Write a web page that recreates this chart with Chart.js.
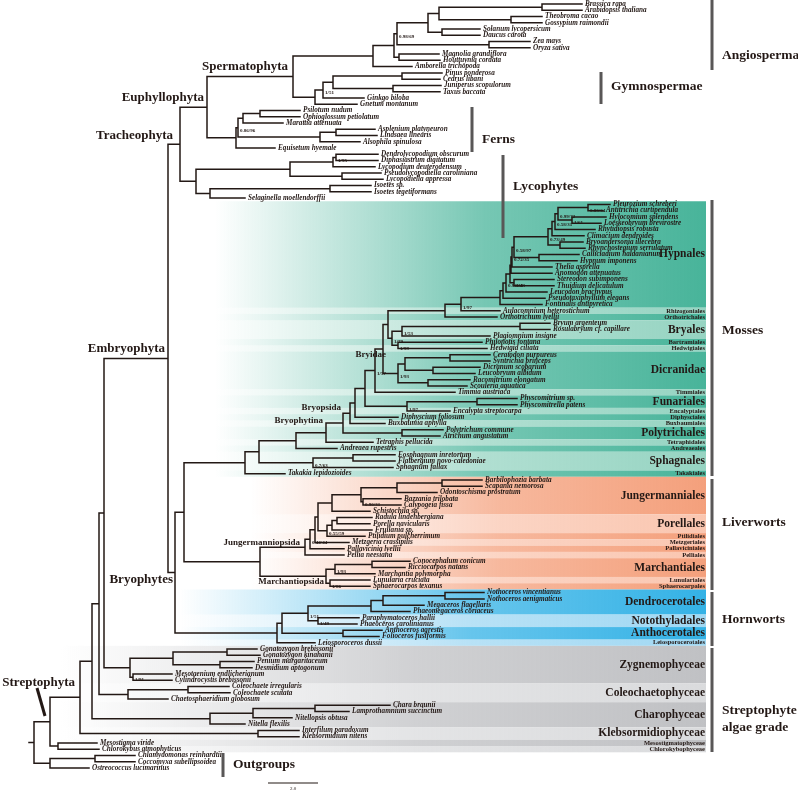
<!DOCTYPE html>
<html>
<head>
<meta charset="utf-8">
<script src="https://cdn.jsdelivr.net/npm/chart.js@4.4.0/dist/chart.umd.min.js"></script>
<style>
  html, body { margin: 0; padding: 0; background: #fff; }
  canvas { display: block; }
</style>
</head>
<body>
<canvas id="tree" width="798" height="791"></canvas>
<script>
// Leaves, top to bottom
const taxa = [
  "Brassica rapa", "Arabidopsis thaliana", "Theobroma cacao", "Gossypium raimondii",
  "Solanum lycopersicum", "Daucus carota", "Zea mays", "Oryza sativa",
  "Magnolia grandiflora", "Houttuynia cordata", "Amborella trichopoda",
  "Pinus ponderosa", "Cedrus libani", "Juniperus scopulorum", "Taxus baccata",
  "Ginkgo biloba", "Gnetum montanum",
  "Psilotum nudum", "Ophioglossum petiolatum", "Marattia attenuata",
  "Asplenium platyneuron", "Lindsaea linearis", "Alsophila spinulosa", "Equisetum hyemale",
  "Dendrolycopodium obscurum", "Diphasiastrum digitatum", "Lycopodium deuterodensum",
  "Pseudolycopodiella caroliniana", "Lycopodiella appressa", "Isoetes sp.",
  "Isoetes tegetiformans", "Selaginella moellendorffii",
  "Pleurozium schreberi", "Antitrichia curtipendula", "Hylocomium splendens",
  "Loeskeobryum brevirostre", "Rhytidiopsis robusta", "Climacium dendroides",
  "Bryoandersonia illecebra", "Rhynchostegium serrulatum", "Callicladium haldanianum",
  "Hypnum imponens", "Thelia asprella", "Anomodon attenuatus", "Stereodon subimponens",
  "Thuidium delicatulum", "Leucodon brachypus", "Pseudotaxiphyllum elegans",
  "Fontinalis antipyretica", "Aulacomnium heterostichum", "Orthotrichum lyellii",
  "Bryum argenteum", "Rosulabryum cf. capillare", "Plagiomnium insigne",
  "Philonotis fontana", "Hedwigia ciliata", "Ceratodon purpureus", "Syntrichia princeps",
  "Dicranum scoparium", "Leucobryum albidum", "Racomitrium elongatum", "Scouleria aquatica",
  "Timmia austriaca", "Physcomitrium sp.", "Physcomitrella patens", "Encalypta streptocarpa",
  "Diphyscium foliosum", "Buxbaumia aphylla", "Polytrichum commune", "Atrichum angustatum",
  "Tetraphis pellucida", "Andreaea rupestris", "Eosphagnum inretortum",
  "Flatbergium novo-caledoniae", "Sphagnum fallax", "Takakia lepidozioides",
  "Barbilophozia barbata", "Scapania nemorosa", "Odontoschisma prostratum",
  "Bazzania trilobata", "Calypogeia fissa", "Schistochila sp.", "Radula lindenbergiana",
  "Porella navicularis", "Frullania sp.", "Ptilidium pulcherrimum", "Metzgeria crassipilis",
  "Pallavicinia lyellii", "Pellia neesiana", "Conocephalum conicum", "Ricciocarpos natans",
  "Marchantia polymorpha", "Lunularia cruciata", "Sphaerocarpos texanus",
  "Nothoceros vincentianus", "Nothoceros aenigmaticus", "Megaceros flagellaris",
  "Phaeomegaceros coriaceus", "Paraphymatoceros hallii", "Phaeoceros carolinianus",
  "Anthoceros agrestis", "Folioceros fusiformis", "Leiosporoceros dussii",
  "Gonatozygon brebissonii", "Gonatozygon kinahanii", "Penium margaritaceum",
  "Desmidium aptogonum", "Mesotaenium endlicherianum", "Cylindrocystis brebissonii",
  "Coleochaete irregularis", "Coleochaete scutata", "Chaetosphaeridium globosum",
  "Chara braunii", "Lamprothamnium succinctum", "Nitellopsis obtusa", "Nitella flexilis",
  "Interfilum paradoxum", "Klebsormidium nitens", "Mesostigma viride",
  "Chlorokybus atmophyticus", "Chlamydomonas reinhardtii", "Coccomyxa subellipsoidea",
  "Ostreococcus lucimarinus"
];

// distance of each tip from the root (scale bar units)
const tipDepth = [
  22.12, 22.12, 20.52, 20.52, 18.04, 18.04, 20.04, 20.04, 16.4, 16.44, 15.32,
  16.52, 16.44, 16.48, 16.44, 13.4, 13.12,
  10.84, 10.84, 10.16, 13.84, 13.92, 13.24, 9.84,
  13.96, 13.96, 13.84, 14.08, 14.16, 13.68, 13.68, 8.64,
  23.24, 22.96, 23.08, 22.88, 22.64, 22.2, 22.16, 22.24, 22.0, 21.92,
  20.92, 20.92, 21.0, 21.0, 20.72, 20.64, 20.52, 18.84, 18.72,
  20.84, 20.84, 18.44, 18.12, 18.32, 18.44, 18.44, 18.04, 17.84, 17.64, 17.52,
  17.04, 19.52, 19.52, 16.84, 14.76, 14.24, 16.56, 16.44, 13.76, 12.32,
  14.64, 14.64, 14.56, 10.24,
  18.12, 18.12, 16.32, 14.88, 14.88, 13.64, 13.72, 13.64, 13.72, 13.44,
  12.8, 12.6, 12.6, 15.24, 15.04, 13.84, 13.64, 13.64,
  18.2, 18.2, 15.8, 15.24, 13.2, 13.12, 14.12, 14.0, 11.44,
  9.12, 9.24, 9.0, 8.92, 5.72, 5.72, 8.0, 8.04, 5.56,
  14.44, 12.8, 10.52, 8.64, 10.8, 10.8, 2.72, 2.8, 4.24, 4.24, 2.4
];

// clades: [first leaf, last leaf, node depth]
const clades = [
  [0, 122, 0.2], [0, 119, 0.84], [118, 119, 1.16], [120, 122, 0.84], [120, 121, 2.64],
  [0, 117, 2.04], [116, 117, 9.16], [0, 115, 2.52], [112, 115, 7.24], [112, 114, 8.96],
  [112, 113, 11.44], [0, 111, 2.8], [109, 111, 3.96], [109, 110, 6.36], [0, 108, 3.0],
  [103, 108, 4.04], [103, 106, 5.76], [103, 104, 7.92], [105, 106, 7.64], [107, 108, 4.16],
  [0, 102, 5.56], [0, 31, 6.04], [0, 23, 7.12], [0, 16, 10.56],
  [0, 10, 13.76], [0, 9, 14.6], [0, 7, 14.72], [0, 5, 15.96], [0, 3, 16.4], [0, 1, 20.52],
  [2, 3, 19.28], [4, 5, 16.52], [6, 7, 18.4], [8, 9, 14.8],
  [11, 16, 11.44], [11, 15, 11.76], [11, 14, 12.16], [11, 12, 14.92], [13, 14, 14.56],
  [17, 23, 8.28], [17, 22, 8.36], [17, 19, 8.56], [17, 18, 9.24], [20, 22, 11.64], [20, 21, 12.28],
  [24, 31, 6.68], [24, 28, 10.44], [24, 26, 12.16], [24, 25, 12.28], [27, 28, 12.52],
  [29, 31, 7.24], [29, 30, 12.04],
  [32, 102, 5.84], [32, 93, 6.2], [32, 75, 8.64], [32, 74, 9.2], [72, 74, 11.36], [72, 73, 12.96],
  [32, 71, 10.68], [32, 70, 11.88], [32, 69, 12.56], [68, 69, 14.92], [32, 67, 12.84],
  [32, 66, 13.04], [32, 65, 13.44], [63, 65, 15.12], [63, 64, 17.92], [32, 62, 13.84],
  [32, 61, 14.16], [32, 55, 14.36], [56, 61, 14.76], [56, 59, 15.04], [56, 57, 16.84],
  [58, 59, 16.16], [60, 61, 15.96], [51, 55, 14.52], [51, 53, 14.92], [51, 52, 19.64],
  [54, 55, 14.76], [32, 50, 16.64], [32, 49, 17.28], [32, 48, 18.84], [32, 47, 18.96],
  [32, 46, 19.08], [32, 45, 19.24], [44, 45, 19.4], [32, 43, 19.28], [32, 42, 19.32],
  [32, 41, 19.4], [40, 41, 20.4], [32, 39, 20.76], [38, 39, 21.24], [32, 37, 20.92],
  [32, 36, 21.04], [32, 35, 21.16], [34, 35, 21.72], [32, 33, 22.36],
  [76, 93, 9.24], [76, 88, 11.04], [76, 87, 11.24], [76, 86, 11.44], [76, 85, 11.56],
  [76, 81, 12.12], [76, 80, 13.28], [76, 78, 14.72], [76, 77, 16.52], [79, 80, 13.36],
  [82, 85, 11.92], [82, 84, 12.12], [82, 83, 12.32],
  [89, 93, 11.88], [89, 91, 12.24], [89, 90, 13.72], [92, 93, 12.04],
  [94, 102, 9.92], [94, 101, 10.12], [94, 99, 11.16], [94, 97, 13.68], [94, 96, 14.16],
  [94, 95, 16.64], [98, 99, 11.56], [100, 101, 12.56]
];

// support values: [first leaf, last leaf, text]
const supports = [
  [0, 7, "0.98/69"], [11, 15, "1/51"], [17, 22, "0.86/96"], [24, 25, "1/95"],
  [32, 33, "0.83/64"], [32, 35, "0.99/72"], [34, 35, "1/61"], [32, 36, "0.58/31"],
  [32, 39, "0.73/49"], [32, 41, "0.58/97"], [32, 42, "0.72/35"], [44, 45, "1/43"],
  [32, 46, "0.94/65"], [32, 49, "1/97"], [51, 55, "1/79"], [51, 53, "1/53"],
  [54, 55, "1/99"], [56, 61, "1/93"], [32, 62, "1/57"], [72, 74, "0.7/63"],
  [63, 65, "1/97"], [79, 80, "0.90/31"], [82, 85, "0.55/59"], [76, 87, "0.44/44"],
  [89, 91, "1/93"], [92, 93, "1/86"], [94, 99, "1/51"], [98, 99, "1/49"], [107, 108, "1/91"]
];

// orders shown as coloured bands: [first leaf, last leaf, name, group]
const orders = [
  [32, 48, "Hypnales", "moss"], [49, 49, "Rhizogoniales", "moss"], [50, 50, "Orthotrichales", "moss"],
  [51, 53, "Bryales", "moss"], [54, 54, "Bartramiales", "moss"], [55, 55, "Hedwigiales", "moss"],
  [56, 61, "Dicranidae", "moss"], [62, 62, "Timmiales", "moss"], [63, 64, "Funariales", "moss"],
  [65, 65, "Encalyptales", "moss"], [66, 66, "Diphysciales", "moss"], [67, 67, "Buxbaumiales", "moss"],
  [68, 69, "Polytrichales", "moss"], [70, 70, "Tetraphidales", "moss"], [71, 71, "Andreaeales", "moss"],
  [72, 74, "Sphagnales", "moss"], [75, 75, "Takakiales", "moss"],
  [76, 81, "Jungermanniales", "liver"], [82, 84, "Porellales", "liver"], [85, 85, "Ptilidiales", "liver"],
  [86, 86, "Metzgeriales", "liver"], [87, 87, "Pallaviciniales", "liver"], [88, 88, "Pelliales", "liver"],
  [89, 91, "Marchantiales", "liver"], [92, 92, "Lunulariales", "liver"], [93, 93, "Sphaerocarpales", "liver"],
  [94, 97, "Dendrocerotales", "horn"], [98, 99, "Notothyladales", "horn"],
  [100, 101, "Anthocerotales", "horn"], [102, 102, "Leiosporocerotales", "horn"],
  [103, 108, "Zygnemophyceae", "alga"], [109, 111, "Coleochaetophyceae", "alga"],
  [112, 115, "Charophyceae", "alga"], [116, 117, "Klebsormidiophyceae", "alga"],
  [118, 118, "Mesostigmatophyceae", "alga"], [119, 119, "Chlorokybophyceae", "alga"]
];

const scaleBar = [9.56, 2.0];  // start, length

// ---- build the tree from the clade list ----
const nodes = clades.map(([s, e, d]) => ({ s, e, d, kids: [] }));
nodes.sort((a, b) => (b.e - b.s) - (a.e - a.s));
function smallestHolder(s, e, size) {
  let best = null;
  nodes.forEach(m => {
    if (m.s <= s && m.e >= e && (m.e - m.s) > size) {
      if (!best || (m.e - m.s) < (best.e - best.s)) best = m;
    }
  });
  return best;
}
nodes.forEach(n => {
  n.parent = smallestHolder(n.s, n.e, n.e - n.s);
  if (n.parent) n.parent.kids.push(n);
});
taxa.forEach((name, i) => {
  const leaf = { s: i, e: i, d: tipDepth[i], kids: [], leaf: true, y: i };
  leaf.parent = smallestHolder(i, i, 0);
  leaf.parent.kids.push(leaf);
});
function place(n) {
  if (n.leaf) return n.y;
  n.kids.sort((a, b) => a.s - b.s);
  n.kids.forEach(place);
  n.y = (n.kids[0].y + n.kids[n.kids.length - 1].y) / 2;
  return n.y;
}
const root = nodes[0];
place(root);
const byKey = {};
nodes.forEach(n => byKey[n.s + "-" + n.e] = n);

const segs = [];
function walk(n) {
  if (n.parent) segs.push({ x: n.parent.d, y: n.y }, { x: n.d, y: n.y }, { x: null, y: null });
  if (!n.leaf) {
    segs.push({ x: n.d, y: n.kids[0].y }, { x: n.d, y: n.kids[n.kids.length - 1].y }, { x: null, y: null });
    n.kids.forEach(walk);
  }
}
segs.push({ x: 0, y: root.y }, { x: root.d, y: root.y }, { x: null, y: null });
walk(root);

// ---- colours ----
const bandColors = {
  moss:  ["rgba(72,180,154,", "rgba(150,212,194,", 215],
  liver: ["rgba(244,160,124,", "rgba(250,198,176,", 250],
  horn:  ["rgba(52,178,230,", "rgba(160,216,243,", 180],
  alga:  ["rgba(192,193,196,", "rgba(218,219,221,", 60]
};
const INK = "#231815";
const SERIF = '"Liberation Serif", "Times New Roman", serif';

const bandsPlugin = {
  id: "bands",
  beforeDatasetsDraw(chart) {
    const { ctx, scales: { y } } = chart;
    const right = 706;
    ctx.save();
    const count = {};
    orders.forEach(([s, e, name, g]) => {
      count[g] = (count[g] || 0) + 1;
      const c = bandColors[g];
      const col = count[g] % 2 === 1 ? c[0] : c[1];
      const top = y.getPixelForValue(s - 0.5), bot = y.getPixelForValue(e + 0.5);
      const grad = ctx.createLinearGradient(c[2], 0, right, 0);
      grad.addColorStop(0, col + "0)");
      grad.addColorStop(0.55, col + "0.75)");
      grad.addColorStop(1, col + "1)");
      ctx.fillStyle = grad;
      ctx.fillRect(c[2], top, right - c[2], bot - top);
    });
    ctx.restore();
  }
};

const labelsPlugin = {
  id: "labels",
  afterDatasetsDraw(chart) {
    const { ctx, scales: { x, y } } = chart;
    ctx.save();
    ctx.fillStyle = INK;
    ctx.textBaseline = "middle";

    // tip names
    ctx.font = "italic bold 7.2px " + SERIF;
    ctx.textAlign = "left";
    taxa.forEach((t, i) => ctx.fillText(t, x.getPixelForValue(tipDepth[i]) + 3, y.getPixelForValue(i)));

    // support values
    ctx.font = "bold 5px " + SERIF;
    supports.forEach(([s, e, t]) => {
      const n = byKey[s + "-" + e];
      ctx.fillText(t, x.getPixelForValue(n.d) + 2, y.getPixelForValue(n.y) + 3);
    });

    // order names
    ctx.textAlign = "right";
    orders.forEach(([s, e, name]) => {
      ctx.font = (e > s ? "bold 11.5px " : "bold 6.5px ") + SERIF;
      ctx.fillText(name, 705, y.getPixelForValue((s + e) / 2));
    });

    // clade names on branches
    const nodeNames = [
      ["Spermatophyta", 288, 67, 13], ["Euphyllophyta", 204, 98, 13], ["Tracheophyta", 173, 136, 13],
      ["Embryophyta", 165, 349, 13], ["Bryophytes", 173, 580, 13], ["Streptophyta", 75, 683, 13],
      ["Bryidae", 386, 355, 9], ["Bryopsida", 341, 408, 9], ["Bryophytina", 323, 421, 9],
      ["Jungermanniopsida", 300, 543, 9], ["Marchantiopsida", 324, 582, 9]
    ];
    nodeNames.forEach(([t, px, py, sz]) => {
      ctx.font = "bold " + sz + "px " + SERIF;
      ctx.fillText(t, px, py);
    });

    // major groups with brackets
    const groups = [
      [["Angiospermae"], 712, 0, 70, 56], [["Gymnospermae"], 601, 72, 104, 87],
      [["Ferns"], 472, 107, 152, 140], [["Lycophytes"], 503, 155, 238, 187],
      [["Mosses"], 712, 200, 476, 331], [["Liverworts"], 712, 479, 590, 523],
      [["Hornworts"], 712, 592, 646, 620], [["Streptophyte", "algae grade"], 712, 648, 752, 711],
      [["Outgroups"], 223, 753, 777, 765]
    ];
    ctx.textAlign = "left";
    ctx.font = "bold 13.5px " + SERIF;
    groups.forEach(([lines, bx, y0, y1, ty]) => {
      ctx.fillStyle = "#595757";
      ctx.fillRect(bx - 1.5, y0, 3, y1 - y0);
      ctx.fillStyle = INK;
      lines.forEach((l, k) => ctx.fillText(l, bx + 10, ty + k * 17));
    });

    // Streptophyta marker
    ctx.strokeStyle = INK;
    ctx.lineWidth = 3;
    ctx.beginPath();
    ctx.moveTo(37, 688);
    ctx.lineTo(45, 716);
    ctx.stroke();

    // scale bar
    const sx0 = x.getPixelForValue(scaleBar[0]), sx1 = x.getPixelForValue(scaleBar[0] + scaleBar[1]);
    ctx.lineWidth = 1.2;
    ctx.beginPath();
    ctx.moveTo(sx0, 783);
    ctx.lineTo(sx1, 783);
    ctx.stroke();
    ctx.font = "5px " + SERIF;
    ctx.textAlign = "center";
    ctx.fillText(scaleBar[1].toFixed(1), (sx0 + sx1) / 2, 789);
    ctx.restore();
  }
};

new Chart(document.getElementById("tree"), {
  type: "scatter",
  data: {
    datasets: [{
      data: segs,
      showLine: true,
      spanGaps: false,
      borderColor: INK,
      borderWidth: 1.5,
      borderCapStyle: "square",
      pointRadius: 0,
      tension: 0
    }]
  },
  options: {
    responsive: false,
    animation: false,
    events: [],
    layout: { padding: 0, autoPadding: false },
    plugins: { legend: { display: false }, tooltip: { enabled: false } },
    scales: {
      x: { type: "linear", min: -1.16, max: 30.76, display: false },
      y: { type: "linear", min: -0.639, max: 125.68, reverse: true, display: false }
    }
  },
  plugins: [bandsPlugin, labelsPlugin]
});
</script>
</body>
</html>
